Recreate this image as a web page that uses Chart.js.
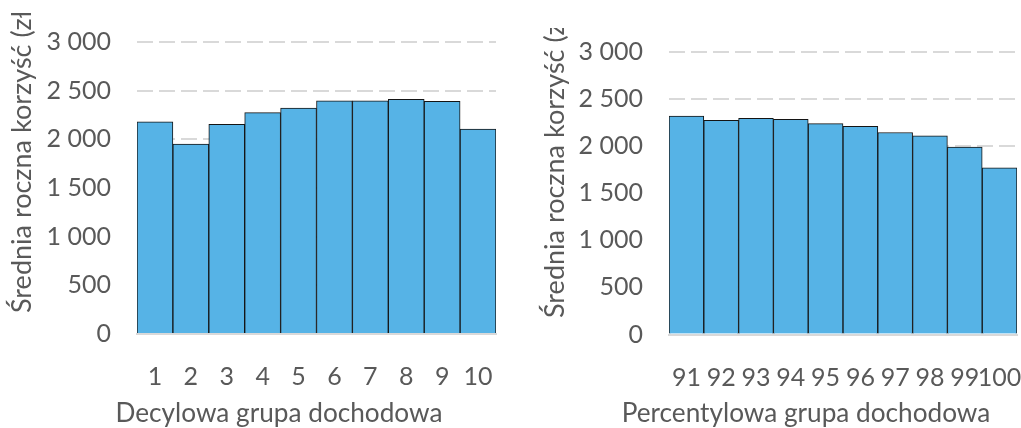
<!DOCTYPE html>
<html><head><meta charset="utf-8">
<script src="https://cdn.jsdelivr.net/npm/chart.js@4.4.1/dist/chart.umd.min.js"></script>
<style>
html,body{margin:0;padding:0;background:#fff;width:1021px;height:428px;overflow:hidden;position:relative}
#w1{position:absolute;left:0;top:13px;width:510px;height:415px}
#w2{position:absolute;left:510px;top:28px;width:511px;height:400px}
</style></head><body>
<div id="w1"><canvas id="c1"></canvas></div>
<div id="w2"><canvas id="c2"></canvas></div>
<script>
const yTitle = 'Średnia roczna korzyść (zł)';
const decileTitle = 'Decylowa grupa dochodowa';
const percentileTitle = 'Percentylowa grupa dochodowa';
const deciles = ['1','2','3','4','5','6','7','8','9','10'];
const decileValues = [2180, 1950, 2155, 2275, 2320, 2395, 2395, 2410, 2390, 2105];
const percentiles = ['91','92','93','94','95','96','97','98','99','100'];
const percentileValues = [2320, 2275, 2295, 2285, 2240, 2210, 2145, 2110, 1990, 1770];
const yMin = 0, yMax = 3000, yStep = 500;

const TEXT = '#595959';
const FONT = 'Lato';
const SIZE = 25;

function fmt(v){ return String(v).replace(/\B(?=(\d{3})+(?!\d))/g, ' '); }

const titlesPlugin = {
  id: 'axisTitles',
  afterDraw(chart, args, o) {
    const ctx = chart.ctx;
    ctx.save();
    ctx.fillStyle = TEXT;
    ctx.textBaseline = 'middle';
    ctx.textAlign = 'center';
    ctx.font = o.xSize + 'px ' + FONT;
    ctx.fillText(o.xText, o.xX, o.xY);
    ctx.font = o.ySize + 'px ' + FONT;
    ctx.translate(o.yX, o.yY);
    ctx.rotate(-Math.PI / 2);
    ctx.textAlign = 'left';
    ctx.fillText(o.yText, 0, 0);
    ctx.restore();
  }
};

function make(id, labels, values, xText, L) {
  return new Chart(document.getElementById(id), {
    type: 'bar',
    data: { labels: labels, datasets: [{
      data: values,
      backgroundColor: '#56B3E6',
      borderColor: '#141414',
      borderWidth: 1,
      borderSkipped: 'start',
      barPercentage: 1,
      categoryPercentage: 1
    }]},
    options: {
      responsive: true, maintainAspectRatio: false, animation: false, devicePixelRatio: 1,
      layout: { padding: { top: L.padTop, right: L.padRight, left: 0, bottom: 0 } },
      plugins: { legend: { display: false }, tooltip: { enabled: false },
        axisTitles: { xSize: 26.2, ySize: 27, xText: xText, xX: L.xX, xY: L.xY, yText: yTitle, yX: L.yX, yY: L.yY } },
      scales: {
        x: {
          grid: { display: false, drawTicks: false },
          border: { display: true, color: '#d9d9d9', width: 2 },
          ticks: { color: TEXT, font: { family: FONT, size: SIZE }, padding: 28, maxRotation: 0, autoSkip: false },
          afterFit(s) { s.height = L.xHeight; s.paddingLeft = 0; s.paddingRight = 0; }
        },
        y: {
          min: yMin, max: yMax,
          grid: { color: '#d9d9d9', lineWidth: 2, drawTicks: false },
          border: { display: false, dash: [16, 6] },
          ticks: { stepSize: yStep, color: TEXT, font: { family: FONT, size: SIZE }, padding: 26, callback: v => fmt(v) },
          afterFit(s) { s.width = L.yWidth; s.paddingTop = 0; s.paddingBottom = 0; }
        }
      }
    },
    plugins: [titlesPlugin]
  });
}

make('c1', deciles, decileValues, decileTitle,
  { padTop: 29, padRight: 14, yWidth: 137, xHeight: 94, xX: 279, xY: 401, yX: 22, yY: 300 });
make('c2', percentiles, percentileValues, percentileTitle,
  { padTop: 24, padRight: 4, yWidth: 159, xHeight: 93.5, xX: 296, xY: 386, yX: 45, yY: 290 });
</script>
</body></html>
